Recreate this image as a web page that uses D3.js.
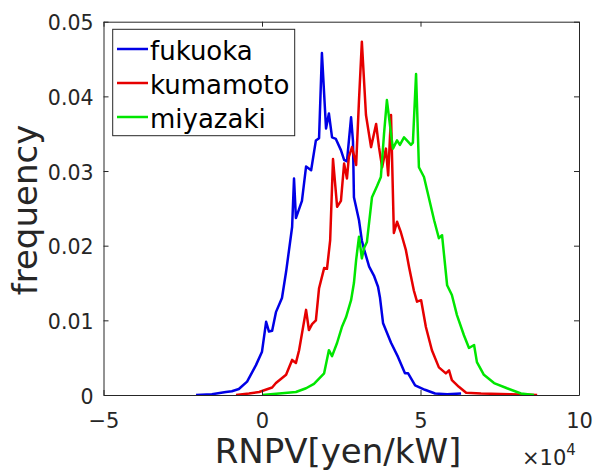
<!DOCTYPE html>
<html><head><meta charset="utf-8">
<script src="https://cdn.jsdelivr.net/npm/d3@7/dist/d3.min.js"></script>
<style>body{margin:0;background:#fff}svg{display:block}</style>
</head><body>
<svg id="c" width="595" height="472"></svg>
<script>
// x values in units of 1e4 yen/kW, y = frequency
const seriesNames = ["fukuoka", "kumamoto", "miyazaki"];
const seriesColors = ["#0000e6", "#e60000", "#00e600"];
const fukuoka = [[-2.08,0],[-1.58,0.0001],[-1.14,0.0004],[-0.95,0.0005],[-0.73,0.0008],[-0.47,0.0018],[-0.19,0.004],[0.0,0.0058],[0.13,0.0098],[0.22,0.0085],[0.32,0.0086],[0.44,0.0111],[0.63,0.013],[0.76,0.0165],[0.95,0.0225],[1.01,0.029],[1.07,0.0237],[1.26,0.026],[1.39,0.0306],[1.55,0.0301],[1.70,0.0341],[1.80,0.0344],[1.89,0.0458],[2.02,0.0357],[2.11,0.0377],[2.21,0.0345],[2.33,0.0343],[2.49,0.0328],[2.59,0.0315],[2.68,0.0313],[2.81,0.0372],[2.87,0.034],[2.90,0.0265],[3.06,0.0234],[3.15,0.0207],[3.22,0.0195],[3.38,0.0172],[3.53,0.016],[3.66,0.0145],[3.72,0.0131],[3.82,0.0096],[4.07,0.007],[4.29,0.0051],[4.51,0.0029],[4.61,0.0029],[4.83,0.0013],[5.14,0.0007],[5.46,0.0002],[5.84,0.0001],[6.28,0.0002]];
const kumamoto = [[-0.82,0],[-0.41,0.0002],[-0.09,0.0004],[0.32,0.001],[0.44,0.0016],[0.76,0.0027],[0.95,0.0047],[1.07,0.0043],[1.17,0.006],[1.39,0.0114],[1.48,0.0087],[1.58,0.0095],[1.70,0.01],[1.80,0.0143],[1.96,0.017],[2.05,0.0169],[2.15,0.0207],[2.24,0.0316],[2.37,0.0252],[2.49,0.026],[2.59,0.031],[2.68,0.029],[2.74,0.0319],[2.84,0.0332],[2.97,0.0308],[3.06,0.0395],[3.15,0.0473],[3.28,0.0375],[3.44,0.0332],[3.60,0.0363],[3.69,0.0332],[3.79,0.0305],[3.91,0.033],[3.98,0.0294],[4.07,0.0375],[4.16,0.0217],[4.26,0.0232],[4.38,0.0218],[4.54,0.0194],[4.64,0.0171],[4.79,0.014],[4.89,0.0125],[5.02,0.0127],[5.17,0.0091],[5.36,0.006],[5.58,0.0037],[5.80,0.0029],[5.90,0.0033],[5.99,0.002],[6.21,0.0011],[6.44,0.0003],[6.91,0.0002],[7.85,0.0001],[8.68,0]];
const miyazaki = [[0,0],[0.54,0.0002],[1.07,0.0004],[1.39,0.0009],[1.64,0.0015],[1.80,0.0022],[1.96,0.0029],[2.11,0.006],[2.21,0.0052],[2.37,0.007],[2.52,0.0091],[2.65,0.0104],[2.81,0.0127],[2.90,0.015],[2.97,0.0181],[3.06,0.0212],[3.15,0.0183],[3.22,0.0197],[3.31,0.0205],[3.47,0.0265],[3.63,0.028],[3.75,0.0292],[3.85,0.035],[3.94,0.0395],[4.07,0.035],[4.13,0.033],[4.26,0.0341],[4.35,0.0335],[4.48,0.0345],[4.57,0.0341],[4.70,0.0335],[4.76,0.0338],[4.86,0.043],[4.95,0.0305],[5.11,0.0292],[5.21,0.0274],[5.43,0.0234],[5.58,0.021],[5.68,0.0214],[5.84,0.0147],[5.99,0.0134],[6.15,0.0107],[6.37,0.008],[6.53,0.0063],[6.69,0.0067],[6.78,0.0044],[7.00,0.0027],[7.32,0.0016],[7.73,0.0009],[8.17,0.0002],[8.58,0]];
const xTicks = [-5, 0, 5, 10];
const yTicks = [0, 0.01, 0.02, 0.03, 0.04, 0.05];
const yTickLabels = ["0", "0.01", "0.02", "0.03", "0.04", "0.05"];
const xLabel = "RNPV[yen/kW]";
const yLabel = "frequency";

const data = [fukuoka, kumamoto, miyazaki];
const svg = d3.select("#c");
const L = 103.5, R = 579, T = 21.7, B = 395;
const x = d3.scaleLinear().domain([-5, 10]).range([L, R]);
const y = d3.scaleLinear().domain([0, 0.05]).range([B, T]);
const axisColor = "#262626";
const font = "'DejaVu Sans', 'Liberation Sans', sans-serif";

// lines
const line = d3.line().x(d => x(d[0])).y(d => y(d[1]));
const g = svg.append("g");
g.append("clipPath").attr("id","clip").append("rect").attr("x",L).attr("y",T).attr("width",R-L).attr("height",B-T);
data.forEach((s, i) => {
  g.append("path").attr("d", line(s)).attr("fill","none")
   .attr("stroke", seriesColors[i]).attr("stroke-width", 2.5)
   .attr("stroke-linejoin","round").attr("clip-path","url(#clip)");
});

// axes
const xAxisB = d3.axisBottom(x).tickValues(xTicks).tickSizeInner(-5).tickSizeOuter(0).tickFormat(d => d < 0 ? "\u2212" + Math.abs(d) : d);
const xAxisT = d3.axisTop(x).tickValues(xTicks).tickSizeInner(-5).tickSizeOuter(0).tickFormat("");
const yAxisL = d3.axisLeft(y).tickValues(yTicks).tickSizeInner(-5).tickSizeOuter(0).tickFormat((d,i) => yTickLabels[i]);
const yAxisR = d3.axisRight(y).tickValues(yTicks).tickSizeInner(-5).tickSizeOuter(0).tickFormat("");
function style(sel, fs) {
  sel.selectAll("path").attr("stroke", axisColor).attr("stroke-width", 1);
  sel.selectAll("line").attr("stroke", axisColor).attr("stroke-width", 1);
  sel.selectAll("text").attr("fill", "#262626").style("font-family", font).style("font-size", fs + "px");
}
const gxb = svg.append("g").attr("transform",`translate(0,${B})`).call(xAxisB);
gxb.selectAll("text").attr("dy", null).attr("y", 33);
style(gxb, 21);
const gxt = svg.append("g").attr("transform",`translate(0,${T})`).call(xAxisT); style(gxt, 21);
const gyl = svg.append("g").attr("transform",`translate(${L},0)`).call(yAxisL);
gyl.selectAll("text").attr("x", -10).attr("dy", "0.4em");
style(gyl, 20.5);
const gyr = svg.append("g").attr("transform",`translate(${R},0)`).call(yAxisR); style(gyr, 20);

// axis labels
svg.append("text").attr("x", 338).attr("y", 463).attr("text-anchor","middle")
  .style("font-family", font).style("font-size","34px").attr("fill","#262626").text(xLabel);
svg.append("text").attr("transform",`translate(37,210) rotate(-90)`).attr("text-anchor","middle")
  .style("font-family", font).style("font-size","34px").attr("fill","#262626").text(yLabel);
const ex = svg.append("text").attr("x", 522).attr("y", 465).style("font-family", font).style("font-size","21px").attr("fill","#262626");
ex.append("tspan").text("\u00d710");
ex.append("tspan").attr("dy",-10).style("font-size","15px").text("4");

// legend
const lg = svg.append("g");
lg.append("rect").attr("x",112.7).attr("y",29.3).attr("width",182).attr("height",106.4)
  .attr("fill","#fff").attr("stroke",axisColor).attr("stroke-width",1);
seriesNames.forEach((n, i) => {
  const yy = 49 + i * 34;
  lg.append("line").attr("x1",117).attr("x2",148).attr("y1",yy).attr("y2",yy)
    .attr("stroke",seriesColors[i]).attr("stroke-width",2.5);
  lg.append("text").attr("x",150).attr("y",yy+11).style("font-family",font).style("font-size","26px")
    .attr("fill","#000").text(n);
});
</script>
</body></html>
